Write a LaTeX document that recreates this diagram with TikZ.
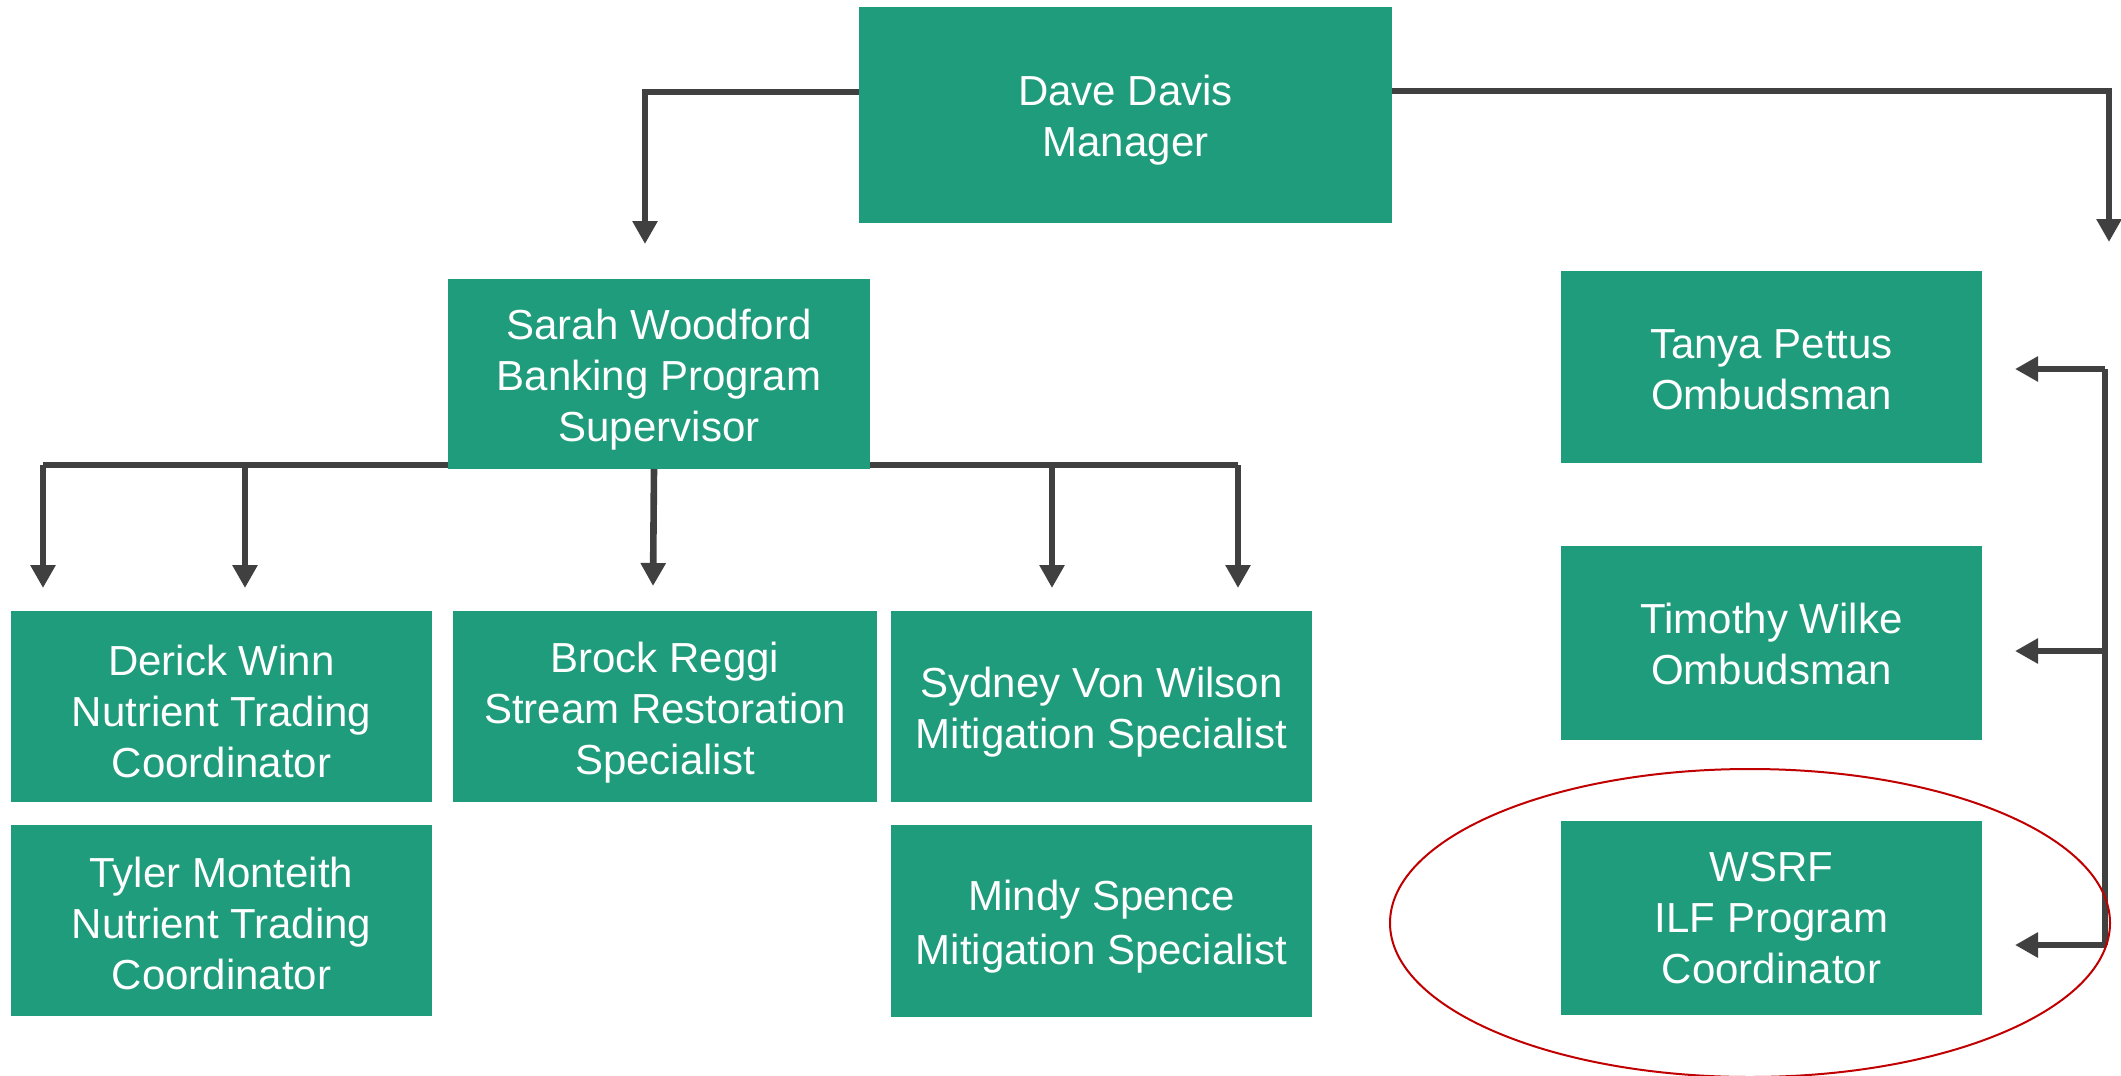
\documentclass[tikz,border=0pt]{standalone}
\usepackage{fontspec}
\setmainfont{Liberation Sans}
\usetikzlibrary{arrows.meta}
\definecolor{boxgreen}{HTML}{1F9C7B}
\definecolor{linegray}{HTML}{404040}
\definecolor{ringred}{HTML}{C00000}
\begin{document}
\begin{tikzpicture}[x=0.5pt,y=-0.5pt,
  orgbox/.style={fill=boxgreen,draw=none,inner sep=0pt},
  boxtext/.style={text=white,align=center,inner sep=0pt,
    font=\fontsize{21pt}{25.5pt}\selectfont},
  conn/.style={draw=linegray,line width=3.3pt,-{Triangle[length=11.5pt,width=12pt]}},
  plainconn/.style={draw=linegray,line width=3.3pt}]
\useasboundingbox (0,0) rectangle (2121,1076);
% boxes
\node[orgbox,minimum width=266.5pt,minimum height=108pt] (dave) at (1125.5,115) {};
\node[orgbox,minimum width=211pt,minimum height=95pt] (sarah) at (659,374) {};
\node[orgbox,minimum width=210.5pt,minimum height=95.5pt] (derick) at (221.5,706.5) {};
\node[orgbox,minimum width=210.5pt,minimum height=95.5pt] (tyler) at (221.5,920.5) {};
\node[orgbox,minimum width=212pt,minimum height=95.5pt] (brock) at (665,706.5) {};
\node[orgbox,minimum width=210.5pt,minimum height=95.5pt] (sydney) at (1101.5,706.5) {};
\node[orgbox,minimum width=210.5pt,minimum height=96pt] (mindy) at (1101.5,921) {};
\node[orgbox,minimum width=210.5pt,minimum height=96pt] (tanya) at (1771.5,367) {};
\node[orgbox,minimum width=210.5pt,minimum height=97pt] (timothy) at (1771.5,643) {};
\node[orgbox,minimum width=210.5pt,minimum height=97pt] (wsrf) at (1771.5,918) {};
% texts
\node[boxtext] (daveT) at ([yshift=-2.5pt]dave.center) {Dave Davis\\Manager};
\node[boxtext] (sarahT) at ([yshift=-3pt]sarah.center) {Sarah Woodford\\Banking Program\\Supervisor};
\node[boxtext] (derickT) at ([yshift=-2.5pt]derick.center) {Derick Winn\\Nutrient Trading\\Coordinator};
\node[boxtext] (tylerT) at ([yshift=-1.5pt]tyler.center) {Tyler Monteith\\Nutrient Trading\\Coordinator};
\node[boxtext] (brockT) at ([yshift=-3pt]brock.center) {Brock Reggi\\Stream Restoration\\Specialist};
\node[boxtext] (sydneyT) at ([yshift=-3pt]sydney.center) {Sydney Von Wilson\\Mitigation Specialist};
\node[boxtext,font=\fontsize{21pt}{27pt}\selectfont] (mindyT) at ([yshift=-3pt]mindy.center) {Mindy Spence\\Mitigation Specialist};
\node[boxtext] (tanyaT) at ([yshift=-1.5pt]tanya.center) {Tanya Pettus\\Ombudsman};
\node[boxtext] (timothyT) at ([yshift=-0.5pt]timothy.center) {Timothy Wilke\\Ombudsman};
\node[boxtext] (wsrfT) at (wsrf.center) {WSRF\\ILF Program\\Coordinator};
% free ends
\coordinate (sarahIn) at (645,244);
\coordinate (rightIn) at (2109,242);
\coordinate (daveL) at (859,92);
\coordinate (daveR) at (1392,91);
\coordinate (sL) at (448,465);
\coordinate (sR) at (870,465);
\coordinate (bL1) at (43,465);
\coordinate (bL2) at (245,465);
\coordinate (bR1) at (1052,465);
\coordinate (bR2) at (1238,465);
\coordinate (tL1) at (43,588);
\coordinate (tL2) at (245,588);
\coordinate (tM) at (653,586);
\coordinate (sM) at (654,469);
\coordinate (tR1) at (1052,588);
\coordinate (tR2) at (1238,588);
\coordinate (brTop) at (2105,369);
\coordinate (brMid) at (2105,651);
\coordinate (brBot) at (2105,945);
\coordinate (aTanya) at (2015,369);
\coordinate (aTim) at (2015,651);
\coordinate (aWsrf) at (2015,945);
% connectors
\draw[conn] (daveL) -| (sarahIn);
\draw[conn] (daveR) -| (rightIn);
\draw[plainconn] (sL) -- (bL1);
\draw[conn] (bL1) -- (tL1);
\draw[conn] (bL2) -- (tL2);
\draw[conn] (sM) -- (tM);
\draw[plainconn] (sR) -- (bR2);
\draw[conn] (bR1) -- (tR1);
\draw[conn] (bR2) -- (tR2);
\draw[plainconn] (brTop) -- (brBot);
\draw[conn] (brTop) -- (aTanya);
\draw[conn] (brMid) -- (aTim);
\draw[conn] (brBot) -- (aWsrf);
% highlight ring
\draw[ringred,line width=1pt] (1750,923) ellipse [x radius=180pt,y radius=77pt];
\end{tikzpicture}
\end{document}
